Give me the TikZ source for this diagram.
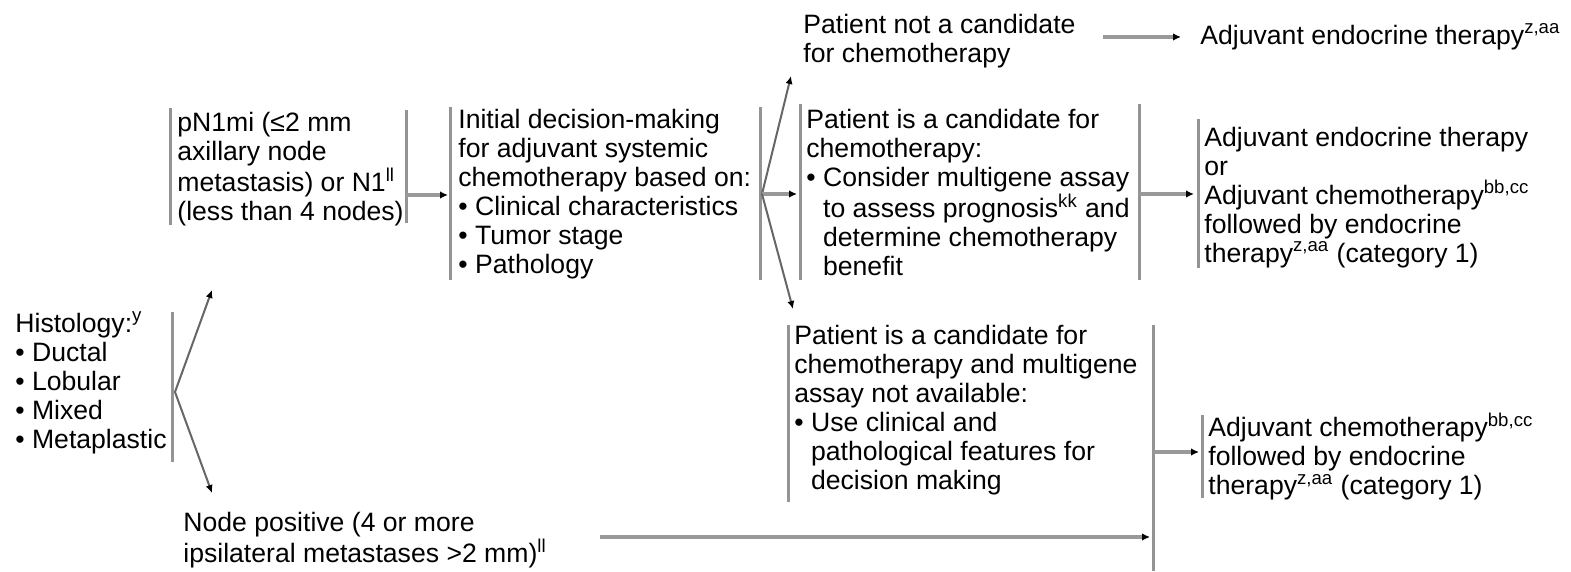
\documentclass[tikz,border=0pt]{standalone}
\usepackage{fontspec}
\setmainfont{Liberation Sans}
\usetikzlibrary{arrows.meta}
\newlength\bulw
\newcommand{\bi}{\textbullet\ }
\newcommand{\ind}{\hspace*{\bulw}}
\begin{document}
\settowidth\bulw{\fontsize{13.3pt}{14.5pt}\selectfont\textbullet\ }
\begin{tikzpicture}[x=0.5pt,y=-0.5pt,
  txt/.style={anchor=north west, inner sep=0pt, align=left, text=black,
    font=\fontsize{13.3pt}{14.5pt}\selectfont},
  bar/.style={draw=black!42, line width=1.5pt},
  conn/.style={draw=black!40, line width=1.6pt,
    -{Latex[length=4pt,width=3.8pt,color=black]}},
  fan/.style={draw=black!60, line width=1pt,
    -{Latex[length=4pt,width=3.6pt,color=black]}}]
\useasboundingbox (0,0) rectangle (1571,572);

% text nodes
\node[txt] (hist) at (15,311.5) {Histology:\textsuperscript{y}\\\bi Ductal\\\bi Lobular\\\bi Mixed\\\bi Metaplastic};
\node[txt] (pn) at (177,111.5) {pN1mi (≤2 mm\\axillary node\\metastasis) or N1\textsuperscript{ll}\\(less than 4 nodes)};
\node[txt] (init) at (458,108.5) {Initial decision-making\\for adjuvant systemic\\chemotherapy based on:\\\bi Clinical characteristics\\\bi Tumor stage\\\bi Pathology};
\node[txt] (notcand) at (803,13.5) {Patient not a candidate\\for chemotherapy};
\node[txt] (aet1) at (1200,23.5) {Adjuvant endocrine therapy\textsuperscript{z,aa}};
\node[txt] (cand) at (806,108.5) {Patient is a candidate for\\chemotherapy:\\\bi Consider multigene assay\\\ind to assess prognosis\textsuperscript{kk} and\\\ind determine chemotherapy\\\ind benefit};
\node[txt] (aet2) at (1204,126.5) {Adjuvant endocrine therapy\\or\\Adjuvant chemotherapy\textsuperscript{bb,cc}\\followed by endocrine\\therapy\textsuperscript{z,aa} (category 1)};
\node[txt] (cand2) at (794,324.5) {Patient is a candidate for\\chemotherapy and multigene\\assay not available:\\\bi Use clinical and\\\ind pathological features for\\\ind decision making};
\node[txt] (ac) at (1208,412.5) {Adjuvant chemotherapy\textsuperscript{bb,cc}\\followed by endocrine\\therapy\textsuperscript{z,aa} (category 1)};
\node[txt] (nodepos) at (183,511.5) {Node positive (4 or more\\ipsilateral metastases >2 mm)\textsuperscript{ll}};

% bars
\draw[bar] (172,312) -- (172,462);
\draw[bar] (170,108) -- (170,225);
\draw[bar] (406,110) -- (406,223);
\draw[bar] (450,107) -- (450,280);
\draw[bar] (760,107) -- (760,280);
\draw[bar] (800,104) -- (800,280);
\draw[bar] (1139,104) -- (1139,280);
\draw[bar] (1198,119) -- (1198,268);
\draw[bar] (788,325) -- (788,502);
\draw[bar] (1153,325) -- (1153,571);
\draw[bar] (1202,415) -- (1202,498);

% connector endpoints
\coordinate (histR) at (175,392);
\coordinate (pnT) at (212,290);
\coordinate (npT) at (212,493);
\coordinate (pnR) at (406,195);
\coordinate (initL) at (448,195);
\coordinate (initR) at (762,194);
\coordinate (ncT) at (791,76);
\coordinate (candL) at (797,194);
\coordinate (c2T) at (793,309);
\coordinate (ncR) at (1103,37);
\coordinate (a1L) at (1181,37);
\coordinate (candR) at (1139,194);
\coordinate (a2L) at (1194,194);
\coordinate (c2R) at (1153,452);
\coordinate (acL) at (1199,452);
\coordinate (npR) at (600,537);
\coordinate (c2B) at (1150,537);

% connectors
\draw[fan] (histR) -- (pnT);
\draw[fan] (histR) -- (npT);
\draw[conn] (pnR) -- (initL);
\draw[fan] (initR) -- (ncT);
\draw[conn] (initR) -- (candL);
\draw[fan] (initR) -- (c2T);
\draw[conn] (ncR) -- (a1L);
\draw[conn] (candR) -- (a2L);
\draw[conn] (c2R) -- (acL);
\draw[conn] (npR) -- (c2B);
\end{tikzpicture}
\end{document}
